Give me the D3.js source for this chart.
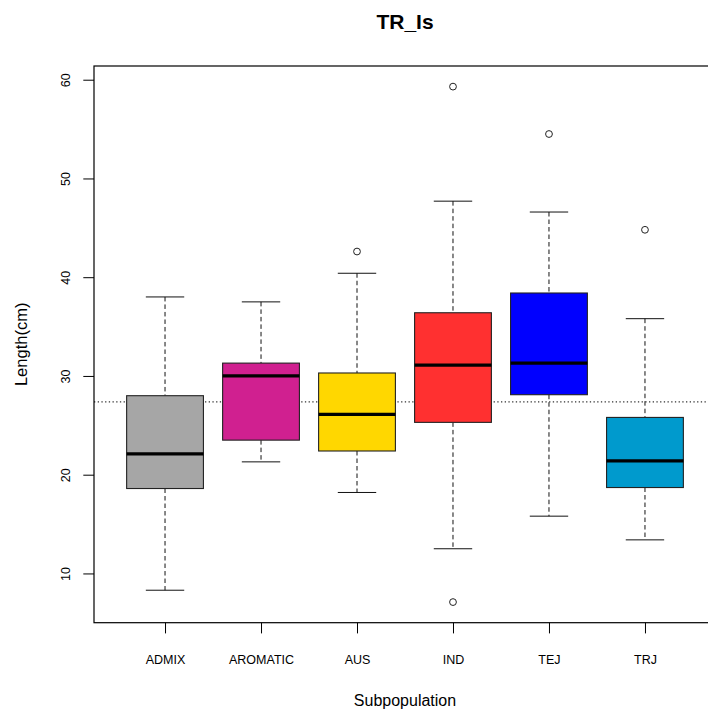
<!DOCTYPE html>
<html>
<head>
<meta charset="utf-8">
<script src="https://cdn.jsdelivr.net/npm/d3@7"></script>
<style>
  body { margin: 0; background: #fff; }
  text { font-family: "Liberation Sans", Arial, sans-serif; fill: #000; }
</style>
</head>
<body>
<svg id="chart"></svg>
<script>
// Box statistics (cm)
const categories = ["ADMIX", "AROMATIC", "AUS", "IND", "TEJ", "TRJ"];
const lowerWhisker = [8.3, 21.3, 18.2, 12.5, 15.8, 13.4];
const q1 = [18.6, 23.5, 22.4, 25.3, 28.1, 18.7];
const median = [22.1, 30.0, 26.1, 31.1, 31.3, 21.4];
const q3 = [28.0, 31.3, 30.3, 36.4, 38.4, 25.8];
const upperWhisker = [38.0, 37.5, 40.4, 47.7, 46.6, 35.8];
const outliers = [[], [], [42.6], [59.3, 7.1], [54.5], [44.8]];
const boxColors = ["#A6A6A6", "#D02090", "#FFD700", "#FF3030", "#0000FF", "#009ACD"];
const refLine = 27.37;
const yTicks = [10, 20, 30, 40, 50, 60];

const width = 708, height = 709;
const plot = {left: 94, right: 716, top: 66, bottom: 622.7};

const svg = d3.select("#chart")
    .attr("width", width)
    .attr("height", height);

const boxes = categories.map((c, i) => ({
  name: c, lo: lowerWhisker[i], q1: q1[i], med: median[i], q3: q3[i],
  hi: upperWhisker[i], out: outliers[i], color: boxColors[i]
}));

// R-style range: data extent stretched by 4% on each side
const allVals = boxes.flatMap(b => [b.lo, b.hi, ...b.out]);
const [ymin, ymax] = d3.extent(allVals);
const ext = (ymax - ymin) * 0.04;

const y = d3.scaleLinear()
    .domain([ymin - ext, ymax + ext])
    .range([plot.bottom, plot.top]);

const x = d3.scalePoint()
    .domain(categories)
    .range([plot.left, plot.right])
    .padding(0.74);

const step = x.step();
const boxW = step * 0.8;
const capW = boxW * 0.5;

// reference line (dotted)
svg.append("line")
    .attr("x1", plot.left).attr("x2", width)
    .attr("y1", y(refLine)).attr("y2", y(refLine))
    .attr("stroke", "#333")
    .attr("stroke-width", 1.1)
    .attr("stroke-dasharray", "1.3,2.4");

const g = svg.selectAll(".box")
    .data(boxes)
  .join("g")
    .attr("class", "box")
    .attr("transform", d => `translate(${x(d.name)},0)`);

// whiskers
g.append("line")
    .attr("x1", 0).attr("x2", 0)
    .attr("y1", d => y(d.hi)).attr("y2", d => y(d.q3))
    .attr("stroke", "#111").attr("stroke-dasharray", "4.5,3");
g.append("line")
    .attr("x1", 0).attr("x2", 0)
    .attr("y1", d => y(d.q1)).attr("y2", d => y(d.lo))
    .attr("stroke", "#111").attr("stroke-dasharray", "4.5,3");

// staples
g.selectAll(".cap")
    .data(d => [d.hi, d.lo])
  .join("line")
    .attr("class", "cap")
    .attr("x1", -capW / 2).attr("x2", capW / 2)
    .attr("y1", v => y(v)).attr("y2", v => y(v))
    .attr("stroke", "#111");

// box
g.append("rect")
    .attr("x", -boxW / 2)
    .attr("width", boxW)
    .attr("y", d => y(d.q3))
    .attr("height", d => y(d.q1) - y(d.q3))
    .attr("fill", d => d.color)
    .attr("stroke", "#222")
    .attr("stroke-width", 1.1);

// median
g.append("line")
    .attr("x1", -boxW / 2).attr("x2", boxW / 2)
    .attr("y1", d => y(d.med)).attr("y2", d => y(d.med))
    .attr("stroke", "#000")
    .attr("stroke-width", 3.3);

// outliers
g.selectAll(".out")
    .data(d => d.out)
  .join("circle")
    .attr("class", "out")
    .attr("cx", 0)
    .attr("cy", v => y(v))
    .attr("r", 3.4)
    .attr("fill", "none")
    .attr("stroke", "#222");

// frame
svg.append("rect")
    .attr("x", plot.left).attr("y", plot.top)
    .attr("width", plot.right - plot.left)
    .attr("height", plot.bottom - plot.top)
    .attr("fill", "none")
    .attr("stroke", "#000")
    .attr("stroke-width", 1.2);

// y axis
const yAxisG = svg.append("g")
    .attr("transform", `translate(${plot.left},0)`)
    .call(d3.axisLeft(y).tickValues(yTicks).tickSize(10.7).tickFormat(d3.format("d")));
yAxisG.select(".domain").remove();
yAxisG.selectAll(".tick line").attr("stroke", "#000");
yAxisG.selectAll(".tick text")
    .attr("x", 0).attr("y", -24).attr("dy", null)
    .attr("transform", "rotate(-90)")
    .attr("text-anchor", "middle")
    .style("font-family", "'Liberation Sans', Arial, sans-serif")
    .style("font-size", "12.5px")
    .attr("fill", "#000");

// x axis
const xAxisG = svg.append("g")
    .attr("transform", `translate(0,${plot.bottom})`)
    .call(d3.axisBottom(x).tickSize(10.7));
xAxisG.select(".domain").remove();
xAxisG.selectAll(".tick line").attr("stroke", "#000");
xAxisG.selectAll(".tick text")
    .attr("y", 41.5).attr("dy", null)
    .style("font-family", "'Liberation Sans', Arial, sans-serif")
    .style("font-size", "12.5px")
    .attr("fill", "#000");

// titles
const cx = (plot.left + plot.right) / 2;
svg.append("text")
    .attr("x", cx).attr("y", 29)
    .attr("text-anchor", "middle")
    .style("font-size", "21px")
    .style("font-weight", "bold")
    .text("TR_Is");

svg.append("text")
    .attr("x", cx).attr("y", 706)
    .attr("text-anchor", "middle")
    .style("font-size", "16px")
    .text("Subpopulation");

svg.append("text")
    .attr("transform", `translate(27,${(plot.top + plot.bottom) / 2}) rotate(-90)`)
    .attr("text-anchor", "middle")
    .style("font-size", "16.5px")
    .text("Length(cm)");
</script>
</body>
</html>
